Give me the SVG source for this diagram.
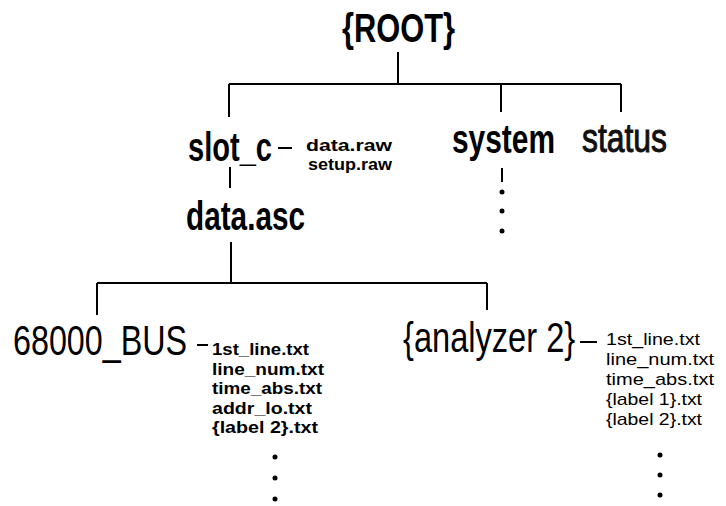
<svg xmlns="http://www.w3.org/2000/svg" width="726" height="506" viewBox="0 0 726 506">
<style>
.big{font-family:"Liberation Sans",Arial,sans-serif;font-weight:bold;font-size:40px;fill:#000}
.bigr{font-family:"Liberation Sans",Arial,sans-serif;font-weight:normal;font-size:42px;fill:#000}
.sm{font-family:"Liberation Sans",Arial,sans-serif;font-weight:bold;font-size:16.5px;fill:#000}
.smr{font-family:"Liberation Sans",Arial,sans-serif;font-weight:normal;font-size:17px;fill:#000}
.ln{stroke:#000;stroke-width:2;fill:none}
.dot{fill:#000}
</style>
<rect width="726" height="506" fill="#fff"/>
<g id="connectors" class="ln">
<path d="M398 52V84M229 84H621M229 84V117M501 84V112M621 84V112"/>
<path d="M278 148H292"/>
<path d="M230 167V188"/>
<path d="M231 242V283M97 283H487M97 283V315M487 283V310"/>
<path d="M502 168V182"/>
<path d="M197 345H208"/>
<path d="M580 342H597"/>
</g>
<g id="root"><text class="big" x="342" y="42" textLength="113" lengthAdjust="spacingAndGlyphs">{ROOT}</text></g>
<g id="slot_c">
<text class="big" x="188" y="161" textLength="84" lengthAdjust="spacingAndGlyphs">slot_c</text>
<text class="sm" x="306" y="151" style="font-size:17px" textLength="86" lengthAdjust="spacingAndGlyphs">data.raw</text>
<text class="sm" x="308" y="170" style="font-size:17px" textLength="84" lengthAdjust="spacingAndGlyphs">setup.raw</text>
</g>
<g id="data_asc"><text class="big" x="186" y="230" textLength="119" lengthAdjust="spacingAndGlyphs">data.asc</text></g>
<g id="system">
<text class="big" x="452" y="153" textLength="103" lengthAdjust="spacingAndGlyphs">system</text>
<circle class="dot" cx="502" cy="192" r="2.5"/>
<circle class="dot" cx="502" cy="211" r="2.5"/>
<circle class="dot" cx="502" cy="231" r="2.5"/>
</g>
<g id="status"><text class="bigr" x="582" y="152" stroke="#111" stroke-width="1" style="font-size:40px;fill:#111" textLength="85" lengthAdjust="spacingAndGlyphs">status</text></g>
<g id="bus68000">
<text class="bigr" transform="translate(13,355) scale(1,1.3)" style="font-size:32.3px">68000_BUS</text>
<text class="sm" x="212" y="355" textLength="97" lengthAdjust="spacingAndGlyphs">1st_line.txt</text>
<text class="sm" x="212" y="374.5" textLength="112" lengthAdjust="spacingAndGlyphs">line_num.txt</text>
<text class="sm" x="212" y="394" textLength="110" lengthAdjust="spacingAndGlyphs">time_abs.txt</text>
<text class="sm" x="212" y="413.5" textLength="100" lengthAdjust="spacingAndGlyphs">addr_lo.txt</text>
<text class="sm" x="212" y="433" textLength="106" lengthAdjust="spacingAndGlyphs">{label 2}.txt</text>
<circle class="dot" cx="275" cy="457" r="2.5"/>
<circle class="dot" cx="275" cy="478" r="2.5"/>
<circle class="dot" cx="275" cy="499" r="2.5"/>
</g>
<g id="analyzer2">
<text class="bigr" transform="translate(403,352) scale(1,1.3)" style="font-size:32.6px">{analyzer 2}</text>
<text class="smr" x="606" y="345" textLength="94" lengthAdjust="spacingAndGlyphs">1st_line.txt</text>
<text class="smr" x="606" y="365" textLength="108" lengthAdjust="spacingAndGlyphs">line_num.txt</text>
<text class="smr" x="606" y="385" textLength="108" lengthAdjust="spacingAndGlyphs">time_abs.txt</text>
<text class="smr" x="606" y="405" textLength="96" lengthAdjust="spacingAndGlyphs">{label 1}.txt</text>
<text class="smr" x="606" y="425" textLength="96" lengthAdjust="spacingAndGlyphs">{label 2}.txt</text>
<circle class="dot" cx="660" cy="455" r="2.5"/>
<circle class="dot" cx="660" cy="475" r="2.5"/>
<circle class="dot" cx="660" cy="495" r="2.5"/>
</g>
</svg>
